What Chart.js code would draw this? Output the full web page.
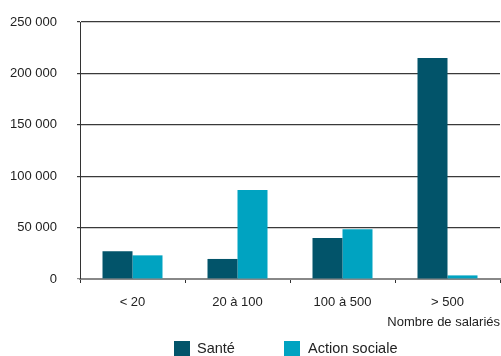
<!DOCTYPE html>
<html>
<head>
<meta charset="utf-8">
<script src="https://cdn.jsdelivr.net/npm/chart.js@4/dist/chart.umd.min.js"></script>
<style>
html,body{margin:0;padding:0;background:#fff;overflow:hidden;}
canvas{display:block;}
</style>
</head>
<body>
<canvas id="c" width="501" height="356"></canvas>
<script>
// ---- data ----
const categories = ['< 20', '20 à 100', '100 à 500', '> 500'];
const sante = [27000, 19500, 40000, 215000];
const actionSociale = [23000, 86500, 48500, 3500];
const seriesNames = ['Santé', 'Action sociale'];
const seriesColors = ['#02546a', '#00a3c1'];
const yTickValues = [0, 50000, 100000, 150000, 200000, 250000];
const xAxisTitle = 'Nombre de salariés';

const FONT = "'Liberation Sans', Arial, sans-serif";
const fmt = v => String(v).replace(/\B(?=(\d{3})+(?!\d))/g, ' ');

const customLegend = {
  id: 'customLegend',
  afterDraw(chart) {
    const ctx = chart.ctx;
    const pos = [[174, 197], [284, 308]];
    ctx.save();
    ctx.font = '14.5px ' + FONT;
    ctx.textBaseline = 'middle';
    ctx.textAlign = 'left';
    chart.data.datasets.forEach((ds, i) => {
      ctx.fillStyle = ds.backgroundColor;
      ctx.fillRect(pos[i][0], 341, 16, 16);
      ctx.fillStyle = '#222';
      ctx.fillText(ds.label, pos[i][1], 349);
    });
    ctx.restore();
  }
};

new Chart(document.getElementById('c'), {
  type: 'bar',
  data: {
    labels: categories,
    datasets: [
      {label: seriesNames[0], data: sante, backgroundColor: seriesColors[0]},
      {label: seriesNames[1], data: actionSociale, backgroundColor: seriesColors[1]}
    ]
  },
  options: {
    responsive: false,
    animation: false,
    events: [],
    layout: {padding: {top: 22, right: 1, left: 0, bottom: 26}},
    categoryPercentage: 60 / 105,
    barPercentage: 1,
    plugins: {legend: {display: false}, tooltip: {enabled: false}},
    scales: {
      x: {
        afterFit: s => { s.height = 51; s.paddingTop = 0; s.paddingBottom = 0; },
        grid: {drawOnChartArea: false, offset: true, tickLength: 4, color: '#333', lineWidth: 1},
        border: {display: true, color: '#888', width: 2},
        ticks: {font: {family: FONT, size: 13}, color: '#222', padding: 12},
        title: {display: true, text: xAxisTitle, align: 'end', font: {family: FONT, size: 13}, color: '#222', padding: {top: 0, bottom: 0}}
      },
      y: {
        min: 0, max: 250000,
        afterFit: s => { s.width = 80; s.paddingTop = 0; s.paddingBottom = 0; },
        afterBuildTicks: s => { s.ticks = yTickValues.map(v => ({value: v})); },
        grid: {color: ctx => ctx.tick && ctx.tick.value === 0 ? '#888' : '#3a3a3a', lineWidth: 1.2, tickLength: 3},
        border: {display: true, color: '#333', width: 1},
        ticks: {font: {family: FONT, size: 13}, color: '#222', padding: 20, callback: v => fmt(v)}
      }
    }
  },
  plugins: [customLegend]
});
</script>
</body>
</html>
